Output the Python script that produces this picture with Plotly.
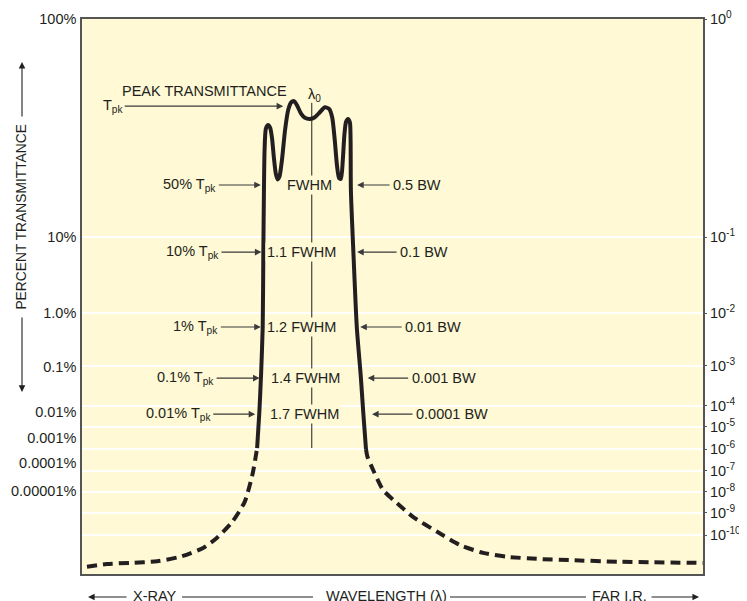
import plotly.graph_objects as go

# ---------------- data (chart units: wavelength 0-100, display level 0-100) -------------
# solid passband curve
band_wl = [28.2, 28.55, 28.82, 29.1, 29.2, 29.3, 29.4, 29.6, 29.95, 30.3, 30.6, 30.9, 31.2, 31.5,
           31.8, 32.2, 32.7, 33.2, 33.7, 34.15, 34.6, 35.3, 35.9, 36.7, 37.5, 38.3, 39.1, 39.8,
           40.3, 40.7, 41.05, 41.4, 41.7, 42.0, 42.25, 42.5, 42.85, 43.15, 43.25, 43.3, 43.7,
           44.25, 44.9, 45.3, 45.73]
band_lvl = [22.7, 29.0, 35.5, 44.5, 58.0, 69.2, 76.4, 80.2, 80.9, 80.4, 78.5, 75.0, 72.2, 71.1,
            71.6, 74.6, 80.0, 83.6, 85.0, 85.2, 84.5, 82.9, 82.2, 82.0, 82.3, 83.2, 84.1, 83.8,
            82.2, 78.2, 73.7, 71.3, 71.2, 74.6, 79.1, 81.4, 82.0, 81.3, 78.2, 69.2, 58.0,
            44.5, 35.5, 29.0, 22.5]
# dashed blocking tails
left_wl = [0.8, 4.0, 7.7, 12.1, 15.8, 19.5, 21.7, 24.2, 26.2, 27.5, 28.2]
left_lvl = [1.3, 1.8, 2.0, 2.3, 3.1, 4.7, 6.5, 9.4, 13.0, 18.2, 22.7]
right_wl = [45.73, 45.95, 46.9, 48.5, 50.7, 53.3, 57.2, 60.9, 64.6, 68.4, 73.75, 78.6, 86.6, 100.0]
right_lvl = [22.5, 21.2, 18.7, 15.1, 12.8, 10.3, 7.6, 5.2, 3.8, 3.1, 2.7, 2.5, 2.2, 2.0]
# center wavelength marker
center_wl = [37.0, 37.0]
center_lvl = [84.9, 22.7]

# axis scale definition (non-uniform schematic scale)
left_tick_pos = [100, 60.7, 47.0, 37.3, 29.2, 24.5, 20.0, 15.0]
left_tick_text = ["100%", "10%", "1.0%", "0.1%", "0.01%", "0.001%", "0.0001%", "0.00001%"]
right_tick_pos = [100, 60.7, 47.0, 37.5, 30.3, 26.5, 22.5, 18.6, 14.8, 11.0, 7.0]
right_tick_text = ["10<sup>0</sup>", "10<sup>-1</sup>", "10<sup>-2</sup>", "10<sup>-3</sup>",
                   "10<sup>-4</sup>", "10<sup>-5</sup>", "10<sup>-6</sup>", "10<sup>-7</sup>",
                   "10<sup>-8</sup>", "10<sup>-9</sup>", "10<sup>-10</sup>"]

# level annotations
tpk_text = ["50% T<sub>pk</sub>", "10% T<sub>pk</sub>", "1% T<sub>pk</sub>",
            "0.1% T<sub>pk</sub>", "0.01% T<sub>pk</sub>"]
tpk_wl = [28.8, 28.9, 28.8, 28.6, 27.9]
fwhm_text = ["FWHM", "1.1 FWHM", "1.2 FWHM", "1.4 FWHM", "1.7 FWHM"]
fwhm_wl = [36.63, 35.35, 35.35, 35.99, 35.83]
bw_text = ["0.5 BW", "0.1 BW", "0.01 BW", "0.001 BW", "0.0001 BW"]
bw_wl = [44.3, 44.3, 44.8, 46.0, 46.7]
level_lvl = [70.1, 58.0, 44.5, 35.3, 28.8]
tpk_off = [-71, -69, -65, -74, -77]
bw_off = [60, 67, 73, 76, 80]

BG = "#FFF9D5"
INK = "#231F20"
FONT = "Liberation Sans, Arial, sans-serif"
FS = 14.5

fig = go.Figure()
fig.add_trace(go.Scatter(x=left_wl, y=left_lvl, mode="lines",
                         line=dict(color=INK, width=4, dash="10px,6px", shape="spline", smoothing=0.6),
                         hoverinfo="skip", showlegend=False))
fig.add_trace(go.Scatter(x=right_wl, y=right_lvl, mode="lines",
                         line=dict(color=INK, width=4, dash="10px,6px", shape="spline", smoothing=0.6),
                         hoverinfo="skip", showlegend=False))
fig.add_trace(go.Scatter(x=band_wl, y=band_lvl, mode="lines",
                         line=dict(color=INK, width=4, shape="spline", smoothing=0.6),
                         hoverinfo="skip", showlegend=False))
fig.add_trace(go.Scatter(x=center_wl, y=center_lvl, mode="lines", yaxis="y2",
                         line=dict(color=INK, width=1),
                         hoverinfo="skip", showlegend=False))

ann = []
for t, xw, yl, off in zip(tpk_text, tpk_wl, level_lvl, tpk_off):
    ann.append(dict(x=xw, y=yl, xref="x", yref="y", text=t, showarrow=True, ax=off, ay=0,
                    borderpad=2, arrowhead=2, arrowsize=1.2, arrowwidth=1.1, arrowcolor="#3a3a3a",
                    font=dict(family=FONT, size=FS, color=INK)))
for t, xw, yl, off in zip(bw_text, bw_wl, level_lvl, bw_off):
    ann.append(dict(x=xw, y=yl, xref="x", yref="y", text=t, showarrow=True, ax=off, ay=0,
                    borderpad=3, arrowhead=2, arrowsize=1.2, arrowwidth=1.1, arrowcolor="#3a3a3a",
                    font=dict(family=FONT, size=FS, color=INK)))
for t, xw, yl in zip(fwhm_text, fwhm_wl, level_lvl):
    ann.append(dict(x=xw, y=yl, xref="x", yref="y", text=t, showarrow=False, bgcolor=BG,
                    borderpad=1, font=dict(family=FONT, size=FS, color=INK)))
ann.append(dict(x=19.8, y=87.0, xref="x", yref="y", text="PEAK TRANSMITTANCE", showarrow=False,
                font=dict(family=FONT, size=FS, color=INK)))
ann.append(dict(x=32.4, y=84.3, xref="x", yref="y", text="T<sub>pk</sub>", showarrow=True,
                ax=-170, ay=0, borderpad=1, arrowhead=2, arrowsize=1.2, arrowwidth=1.1,
                arrowcolor="#3a3a3a", font=dict(family=FONT, size=FS, color=INK)))
ann.append(dict(x=37.5, y=86.3, xref="x", yref="y", text="λ<sub>0</sub>", showarrow=False,
                font=dict(family=FONT, size=FS, color=INK)))
# y-axis title with arrows
ann.append(dict(x=-0.0966, y=0.644, xref="paper", yref="paper", text="PERCENT TRANSMITTANCE",
                xanchor="center", yanchor="middle",
                textangle=-90, showarrow=False, font=dict(family=FONT, size=13.8, color=INK)))
ann.append(dict(x=-0.0966, y=0.9225, xref="paper", yref="paper", text="", showarrow=True,
                ax=0, ay=56, arrowhead=2, arrowsize=1.2, arrowwidth=1.1, arrowcolor=INK))
ann.append(dict(x=-0.0966, y=0.328, xref="paper", yref="paper", text="", showarrow=True,
                ax=0, ay=-76, arrowhead=2, arrowsize=1.2, arrowwidth=1.1, arrowcolor=INK))
# x-axis title pieces
for t, xp in [("X-RAY", 0.1175), ("WAVELENGTH (λ)", 0.4903), ("FAR I.R.", 0.8655)]:
    ann.append(dict(x=xp, y=-0.0396, xref="paper", yref="paper", text=t, showarrow=False,
                    xanchor="center", yanchor="middle",
                    font=dict(family=FONT, size=FS, color=INK)))
ann.append(dict(x=0.0097, y=-0.0414, xref="paper", yref="paper", text="", showarrow=True,
                ax=40, ay=0, arrowhead=2, arrowsize=1.2, arrowwidth=1.1, arrowcolor=INK))
ann.append(dict(x=0.9936, y=-0.0414, xref="paper", yref="paper", text="", showarrow=True,
                ax=-49, ay=0, arrowhead=2, arrowsize=1.2, arrowwidth=1.1, arrowcolor=INK))

shapes = [
    dict(type="line", xref="paper", yref="paper", x0=0.161, x1=0.372, y0=-0.0414, y1=-0.0414,
         line=dict(color=INK, width=1.1)),
    dict(type="line", xref="paper", yref="paper", x0=0.5926, x1=0.8116, y0=-0.0414, y1=-0.0414,
         line=dict(color=INK, width=1.1)),
]

fig.update_layout(
    width=739, height=593,
    margin=dict(l=74, r=44, t=11, b=27, autoexpand=False),
    paper_bgcolor="white", plot_bgcolor=BG,
    annotations=ann, shapes=shapes,
    xaxis=dict(range=[0, 100], showticklabels=False, showgrid=False, zeroline=False,
               showline=True, mirror=True, linecolor="#555", linewidth=1.5, ticks="",
               automargin=False),
    yaxis=dict(range=[0, 100], tickvals=left_tick_pos, ticktext=left_tick_text,
               showgrid=False, zeroline=False, showline=True, mirror=True,
               linecolor="#555", linewidth=1.5, ticks="", ticklabelstandoff=1, automargin=False,
               tickfont=dict(family=FONT, size=FS, color=INK),
               minor=dict(tickvals=right_tick_pos[1:], showgrid=True, gridcolor="white",
                          gridwidth=1.8, ticks="")),
    yaxis2=dict(range=[0, 100], overlaying="y", side="right", tickvals=right_tick_pos,
                ticktext=right_tick_text, showgrid=False, zeroline=False, ticks="outside",
                ticklen=3, tickcolor="#555", showline=False, automargin=False,
                tickfont=dict(family=FONT, size=FS, color=INK)),
)

fig.write_html("out.html")
